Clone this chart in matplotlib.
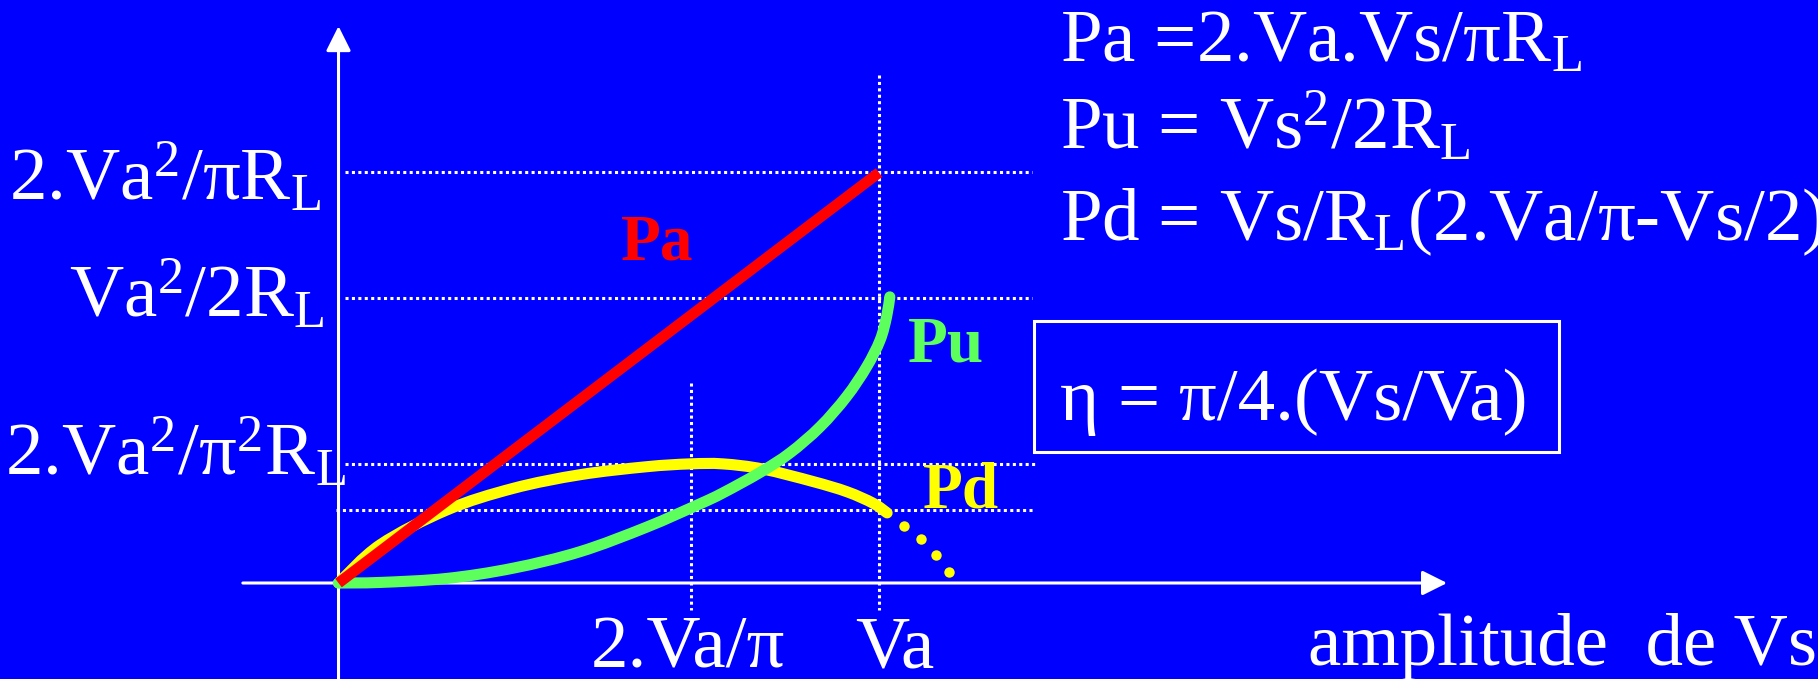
import numpy as np
import matplotlib.pyplot as plt
from matplotlib.path import Path
from matplotlib.patches import PathPatch

plt.rcParams['font.family'] = ['Liberation Serif', 'DejaVu Serif']
plt.rcParams['mathtext.fontset'] = 'custom'
plt.rcParams['mathtext.rm'] = 'Liberation Serif'
plt.rcParams['mathtext.it'] = 'Liberation Serif:italic'
plt.rcParams['mathtext.bf'] = 'Liberation Serif:bold'

BLUE = '#0000FF'
RED = '#FF0000'
GREEN = '#5CFF5C'
YELLOW = '#FFFF00'

# x in units of Va, y in units of Va^2/R_L (as sketched)
pa_x = [0.0, 1.0]
pa_y = [0.0, 0.72]

pu_x = [0.0, 0.077, 0.200, 0.323, 0.447, 0.570, 0.669, 0.711, 0.780, 0.835,
        0.891, 0.940, 0.977, 1.002, 1.014, 1.020]
pu_y = [0.0, 0.001, 0.008, 0.026, 0.055, 0.098, 0.139, 0.158, 0.194, 0.228,
        0.274, 0.327, 0.379, 0.426, 0.467, 0.502]

pd_x = [0.0, 0.077, 0.200, 0.323, 0.447, 0.570, 0.650, 0.711, 0.785, 0.878,
        0.941, 0.989, 1.015]
pd_y = [0.0, 0.067, 0.128, 0.166, 0.190, 0.204, 0.209, 0.209, 0.200, 0.178,
        0.160, 0.140, 0.123]

# Pd beyond Va (dotted)
pd_ext_x = [1.046, 1.078, 1.105, 1.129]
pd_ext_y = [0.100, 0.077, 0.049, 0.019]

# guide levels
lvl_pa = 0.721     # 2.Va^2/pi.RL
lvl_pu = 0.5       # Va^2/2RL
lvl_pdmax = 0.209  # 2.Va^2/pi^2.RL
lvl_pdva = 0.128   # Pd at Va
x_peak = 0.653     # 2.Va/pi
x_va = 1.0


def smooth_curve(xs, ys):
    # Catmull-Rom through the points, as cubic bezier segments
    p = np.column_stack([xs, ys])
    p = np.vstack([p[0], p, p[-1]])
    verts = [p[1]]
    codes = [Path.MOVETO]
    for i in range(1, len(p) - 2):
        c1 = p[i] + (p[i + 1] - p[i - 1]) / 6
        c2 = p[i + 1] - (p[i + 2] - p[i]) / 6
        verts += [c1, c2, p[i + 1]]
        codes += [Path.CURVE4] * 3
    return Path(verts, codes)


fig = plt.figure(figsize=(18.18, 6.79), dpi=100, facecolor=BLUE)
ax = fig.add_axes([0, 0, 1, 1])
ax.set_facecolor(BLUE)
ax.set_xlim(-0.6263, 2.7373)
ax.set_ylim(-0.1684, 1.0228)
ax.axis('off')

# axes with arrows
arw = dict(arrowstyle='-|>', color='white', lw=2.2, mutation_scale=38, shrinkA=0, shrinkB=0)
ax.annotate('', xy=(0, 0.977), xytext=(0, -0.17), arrowprops=arw)
ax.annotate('', xy=(2.051, 0), xytext=(-0.177, 0), arrowprops=arw)

dot = dict(color='white', lw=2.2, linestyle=(0, (1, 1.1)))
ax.plot([0.012, 1.283], [lvl_pa, lvl_pa], **dot)
ax.plot([0.012, 1.283], [lvl_pu, lvl_pu], **dot)
ax.plot([0.012, 1.294], [lvl_pdmax, lvl_pdmax], **dot)
ax.plot([-0.005, 1.288], [lvl_pdva, lvl_pdva], **dot)
ax.plot([x_peak, x_peak], [0.351, -0.047], **dot)
ax.plot([x_va, x_va], [0.891, -0.047], **dot)

# curves
ax.add_patch(PathPatch(smooth_curve(pd_x, pd_y), fill=False, ec=YELLOW, lw=8,
                       capstyle='round', joinstyle='round', zorder=3))
ax.plot(pd_ext_x, pd_ext_y, 'o', color=YELLOW, ms=7.5, mew=0, zorder=3)
ax.add_patch(PathPatch(smooth_curve(pu_x, pu_y), fill=False, ec=GREEN, lw=8,
                       capstyle='round', joinstyle='round', zorder=4))
ax.plot(pa_x, pa_y, color=RED, lw=7.8, solid_capstyle='butt', zorder=5)

# curve names
ax.text(0.589, 0.567, 'Pa', color=RED, fontsize=47, fontweight='bold', ha='center', va='baseline')
ax.text(1.124, 0.388, 'Pu', color=GREEN, fontsize=47, fontweight='bold', ha='center', va='baseline')
ax.text(1.151, 0.133, 'Pd', color=YELLOW, fontsize=47, fontweight='bold', ha='center', va='baseline')

fs = 54
# y labels
ax.text(-0.031, 0.672, r'2.Va$^\mathrm{2}$/πR$_\mathrm{L}$', color='white', fontsize=fs, ha='right', va='baseline')
ax.text(-0.025, 0.467, r'Va$^\mathrm{2}$/2R$_\mathrm{L}$', color='white', fontsize=fs, ha='right', va='baseline')
ax.text(0.014, 0.189, r'2.Va$^\mathrm{2}$/π$^\mathrm{2}$R$_\mathrm{L}$', color='white', fontsize=fs, ha='right', va='baseline')

# x labels
ax.text(0.646, -0.149, '2.Va/π', color='white', fontsize=fs, ha='center', va='baseline')
ax.text(1.029, -0.149, 'Va', color='white', fontsize=fs, ha='center', va='baseline')
ax.text(1.794, -0.144, 'amplitude  de Vs', color='white', fontsize=fs, ha='left', va='baseline')

# formulas
ax.text(1.335, 0.914, r'Pa =2.Va.Vs/πR$_\mathrm{L}$', color='white', fontsize=fs, ha='left', va='baseline')
ax.text(1.335, 0.761, r'Pu = Vs$^\mathrm{2}$/2R$_\mathrm{L}$', color='white', fontsize=fs, ha='left', va='baseline')
ax.text(1.335, 0.602, r'Pd = Vs/R$_\mathrm{L}$(2.Va/π-Vs/2)', color='white', fontsize=fs, ha='left', va='baseline')

# efficiency box
box = plt.Rectangle((1.287, 0.230), 0.971, 0.230, fill=False, ec='white', lw=2.2)
ax.add_patch(box)
ax.text(1.335, 0.286, 'η = π/4.(Vs/Va)', color='white', fontsize=fs, ha='left', va='baseline')

fig.savefig('out.png', dpi=100, facecolor=BLUE)
